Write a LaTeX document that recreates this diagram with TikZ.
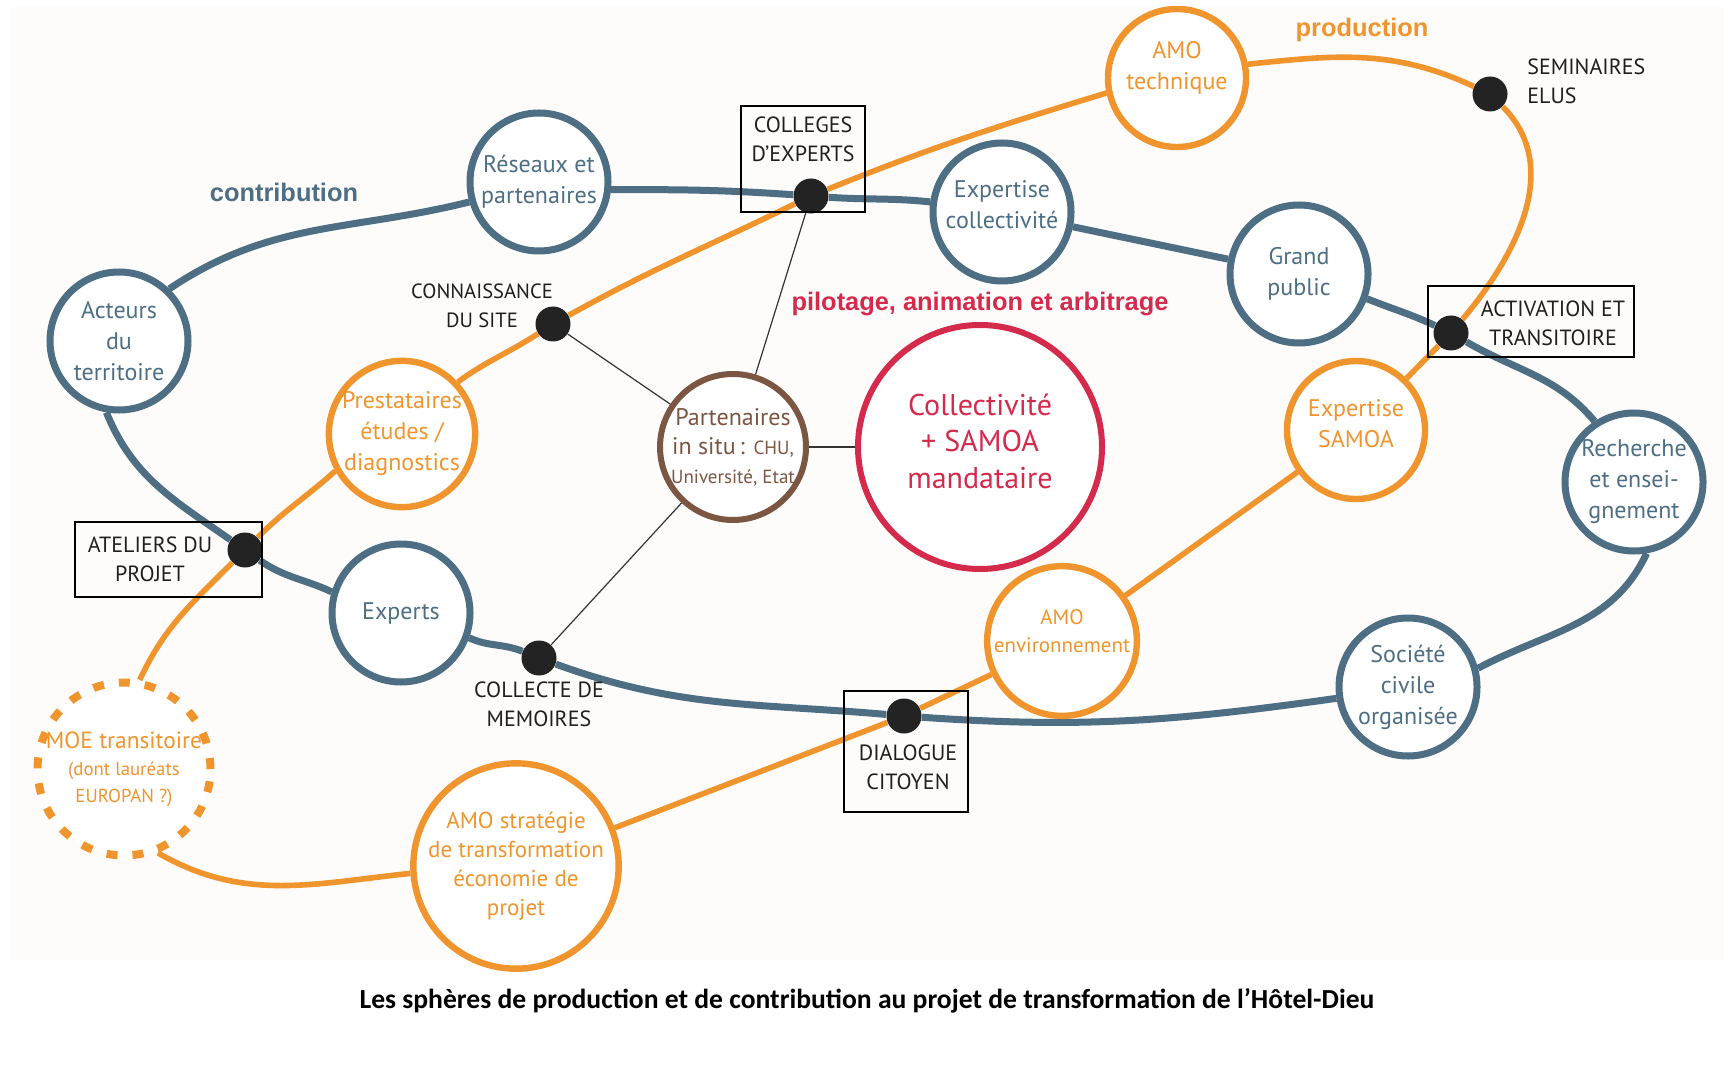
\documentclass[tikz,border=0pt]{standalone}
\usepackage{fontspec}
\setmainfont{PT Sans}
\newfontfamily\headfont{Liberation Sans}
\newfontfamily\capfont{Carlito}
\usetikzlibrary{backgrounds}
\definecolor{cContrib}{HTML}{4E6E83}
\definecolor{cProd}{HTML}{F0952D}
\definecolor{cPilot}{HTML}{D42A4C}
\definecolor{cSitu}{HTML}{7B5643}
\definecolor{cDot}{HTML}{232323}
\definecolor{cPaper}{HTML}{FDFCFA}
\newcommand{\smalltxt}{\fontsize{9.4}{11.5}\selectfont}
\tikzset{
  sphere/.style ={circle, draw, fill=white, line width=3.5pt, align=center,
                  inner sep=0pt, font=\fontsize{12}{15.5}\selectfont},
  contrib/.style={sphere, draw=cContrib, text=cContrib, minimum size=69pt},
  prod/.style   ={sphere, draw=cProd, text=cProd, line width=3.2pt, minimum size=69pt},
  pilot/.style  ={sphere, draw=cPilot, text=cPilot, line width=3pt, minimum size=122pt,
                  font=\fontsize{15}{18.3}\selectfont},
  situ/.style   ={sphere, draw=cSitu, text=cSitu, line width=3pt, minimum size=70pt},
  hub/.style    ={circle, fill=cDot, inner sep=0pt, minimum size=17.5pt},
  lbl/.style    ={align=center, inner sep=0pt, text=black!88,
                  font=\fontsize{11}{14.4}\selectfont},
  lblbox/.style ={draw=black, line width=1pt, inner sep=0pt},
  contrib line/.style={line width=3.5pt, draw=cContrib},
  prod line/.style   ={line width=2.8pt, draw=cProd},
  link/.style   ={line width=0.6pt, draw=black!80},
  ttl/.style    ={font=\headfont\bfseries\fontsize{12.7}{15}\selectfont},
}

\begin{document}
\begin{tikzpicture}[x=0.5pt, y=-0.5pt]
  \useasboundingbox (0,0) rectangle (1732,1074);

  % ===== contribution sphere (blue) =====
  \node[contrib] (acteurs)   at (119,341)  {Acteurs\\du\\territoire};
  \node[contrib] (reseaux)   at (539,182)  {Réseaux et\\partenaires};
  \node[contrib, text depth=7pt] (expcoll) at (1002,212) {Expertise\\collectivité};
  \node[contrib] (grand)     at (1299,274) {Grand\\public};
  \node[contrib] (recherche) at (1634,482) {Recherche\\et ensei-\\gnement};
  \node[contrib] (societe)   at (1408,687) {Société\\civile\\organisée};
  \node[contrib] (experts)   at (401,613)  {Experts};

  % ===== production sphere (orange) =====
  \node[prod, text depth=13pt] (amotech) at (1177,78) {AMO\\technique};
  \node[prod] (prest)    at (402,434)  {Prestataires\\études /\\diagnostics};
  \node[prod, text depth=6pt] (samoa) at (1356,430) {Expertise\\SAMOA};
  \node[prod, text depth=9.5pt, font=\fontsize{10.5}{14}\selectfont] (amoenv)
    at (1062,641) {AMO\\environnement};
  \node[prod, minimum size=93pt, font=\fontsize{11.5}{14.4}\selectfont] (amostrat)
    at (516,866) {AMO stratégie\\de transformation\\économie de\\projet};
  \node[prod, minimum size=84pt, line width=4pt, dash pattern=on 5.5pt off 7.5pt,
        font=\fontsize{11.7}{13.5}\selectfont] (moe) at (124,769)
    {MOE transitoire\\{\smalltxt (dont lauréats}\\{\smalltxt EUROPAN ?)}};

  % ===== pilotage =====
  \node[pilot, text depth=6pt] (collect) at (980,447) {Collectivité\\+ SAMOA\\mandataire};
  \node[situ, font=\fontsize{12}{14.5}\selectfont] (situ) at (733,447)
    {Partenaires\\in situ\,: {\fontsize{9.5}{12}\selectfont CHU,}\\
     {\fontsize{9.5}{12}\selectfont Université, Etat}};

  % ===== meeting points =====
  \node[hub] (colleges dot)     at (811,196)  {};
  \node[hub] (seminaires dot)   at (1490,94)  {};
  \node[hub] (activation dot)   at (1451,333) {};
  \node[hub] (connaissance dot) at (553,324)  {};
  \node[hub] (ateliers dot)     at (245,550)  {};
  \node[hub] (collecte dot)     at (539,658)  {};
  \node[hub] (dialogue dot)     at (904,716)  {};

  % ---- labels + boxes ----
  \node[lblbox, minimum width=62pt, minimum height=53pt] (colleges box) at (803,159) {};
  \node[lbl] (colleges) at (803,139) {COLLEGES\\D’EXPERTS};
  \node[lblbox, minimum width=103pt, minimum height=35.5pt] (activation box) at (1531,322) {};
  \node[lbl] (activation) at (1553,323) {ACTIVATION ET\\TRANSITOIRE};
  \node[lblbox, minimum width=93.5pt, minimum height=37.5pt] (ateliers box) at (168,559) {};
  \node[lbl] (ateliers) at (150,559) {ATELIERS DU\\PROJET};
  \node[lblbox, minimum width=62pt, minimum height=60.5pt] (dialogue box) at (906,751) {};
  \node[lbl] (dialogue) at (908,767) {DIALOGUE\\CITOYEN};
  \node[lbl, align=left, anchor=west] (seminaires) at (1527,81) {SEMINAIRES\\ELUS};
  \node[lbl, font=\fontsize{10.3}{14.4}\selectfont] (connaissance) at (482,306)
    {CONNAISSANCE\\DU SITE};
  \node[lbl] (collecte) at (539,704) {COLLECTE DE\\MEMOIRES};

  % ---- sphere names ----
  \node[ttl, text=cContrib] (contribution) at (284,192) {contribution};
  \node[ttl, text=cProd] (production) at (1362,30) {production};
  \node[ttl, text=cPilot] (pilotage) at (980,304) {pilotage, animation et arbitrage};

  \node[font=\capfont\bfseries\fontsize{13.8}{16}\selectfont] (caption) at (867,1001)
    {Les sphères de production et de contribution au projet de transformation de l’Hôtel-Dieu};

  % ===== connectors =====
  \begin{scope}[on background layer]
    \fill[cPaper] (11,7) rectangle (1724,960);

    % contribution loop
    \draw[contrib line] (acteurs.46) to[out=34,in=194] (reseaux.196);
    \draw[contrib line] (reseaux.-6) to[out=0,in=176] (colleges dot);
    \draw[contrib line] (colleges dot) to[out=-4,in=174] (expcoll.172);
    \draw[contrib line] (expcoll) -- (grand);
    \draw[contrib line] (grand.-20) to[out=-22,in=155] (activation dot);
    \draw[contrib line] (activation dot) to[out=-30,in=130] (recherche.123);
    \draw[contrib line] (recherche.-80) to[out=-115,in=28] (societe.15);
    \draw[contrib line] (societe.189) to[out=188,in=-4] (dialogue dot);
    \draw[contrib line] (dialogue dot) to[out=175,in=-20] (collecte dot);
    \draw[contrib line] (collecte dot) to[out=158,in=-25] (experts.-20);
    \draw[contrib line] (experts.163) to[out=155,in=-35] (ateliers dot);
    \draw[contrib line] (ateliers dot) to[out=145,in=-68] (acteurs.-100);

    % production loop
    \draw[prod line] (moe.80) to[out=65,in=-135] (ateliers dot);
    \draw[prod line] (ateliers dot) to[out=45,in=-138] (prest.209);
    \draw[prod line] (prest.43) to[out=36,in=-147] (connaissance dot);
    \draw[prod line] (connaissance dot) to[out=29,in=-154] (colleges dot);
    \draw[prod line] (colleges dot) to[out=22,in=-163] (amotech.-168);
    \draw[prod line] (amotech.11) to[out=6,in=155] (seminaires dot);
    \draw[prod line] (seminaires dot) to[out=-45,in=50] (activation dot);
    \draw[prod line] (activation dot) -- (samoa);
    \draw[prod line] (samoa) -- (amoenv);
    \draw[prod line] (amoenv) -- (dialogue dot);
    \draw[prod line] (dialogue dot) -- (amostrat);
    \draw[prod line] (amostrat.184) to[out=186,in=-30] (moe.-68);

    % in situ partners
    \draw[link] (situ) -- (connaissance dot);
    \draw[link] (situ) -- (colleges dot);
    \draw[link] (situ) -- (collecte dot);
    \draw[link] (situ) -- (collect);
  \end{scope}
\end{tikzpicture}
\end{document}
